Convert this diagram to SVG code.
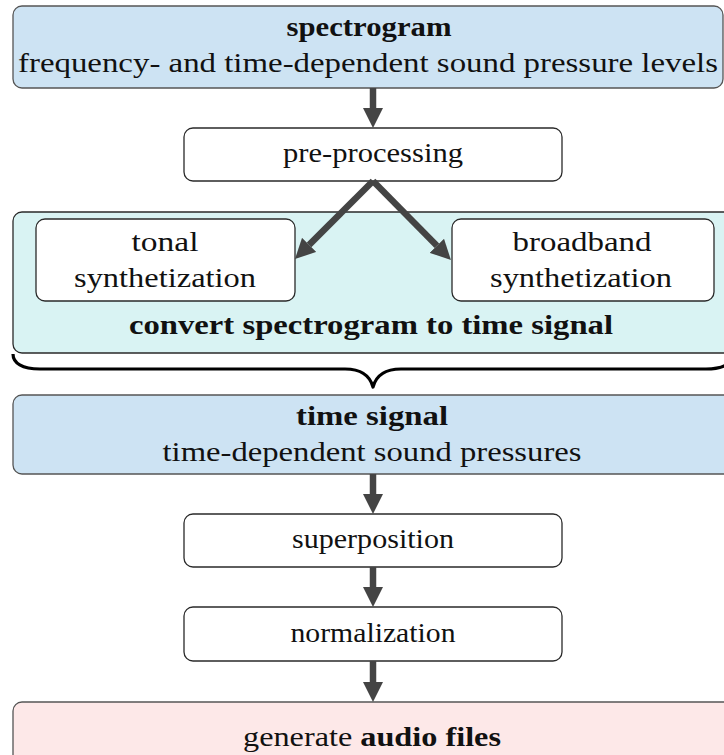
<svg xmlns="http://www.w3.org/2000/svg" width="724" height="755" viewBox="0 0 724 755">
  <style>
    .txt { font-family: "Liberation Serif", "DejaVu Serif", "Noto Serif", "Times New Roman", serif; font-size: 27px; fill: #111; text-anchor: middle; }
    .b { font-weight: bold; }
    .box { stroke: #2a2a2a; stroke-width: 1.3; }
    .blue { fill: #cde3f3; stroke: #555; }
    .teal { fill: #d9f3f3; }
    .white { fill: #ffffff; }
    .pink { fill: #fde8e8; stroke: #555; }
    .arrow { stroke: #444; stroke-width: 6.5; fill: none; }
    .brace { stroke: #000; stroke-width: 3.2; fill: none; stroke-linejoin: round; }
  </style>
  <defs>
    <marker id="head" viewBox="0 0 20 20" refX="0" refY="10" markerWidth="20" markerHeight="20" markerUnits="userSpaceOnUse" orient="auto">
      <path d="M0,0 L20,10 L0,20 Z" fill="#444"/>
    </marker>
  </defs>

  <g id="spectrogram">
    <rect class="box blue" x="13" y="6" width="710" height="82" rx="9"/>
    <text class="txt b" x="369" y="36" textLength="165" lengthAdjust="spacingAndGlyphs">spectrogram</text>
    <text class="txt" x="368" y="72" textLength="700" lengthAdjust="spacingAndGlyphs">frequency- and time-dependent sound pressure levels</text>
  </g>

  <g id="preprocessing">
    <rect class="box white" x="184" y="128" width="378" height="53" rx="9"/>
    <text class="txt" x="373" y="162" textLength="180" lengthAdjust="spacingAndGlyphs">pre-processing</text>
  </g>

  <g id="convert">
    <rect class="box teal" x="13" y="212" width="720" height="141" rx="9"/>
    <text class="txt b" x="371" y="334" textLength="484" lengthAdjust="spacingAndGlyphs">convert spectrogram to time signal</text>
  </g>

  <g id="tonal">
    <rect class="box white" x="36" y="219" width="259" height="82" rx="9"/>
    <text class="txt" x="165" y="251" textLength="67" lengthAdjust="spacingAndGlyphs">tonal</text>
    <text class="txt" x="165" y="287" textLength="182" lengthAdjust="spacingAndGlyphs">synthetization</text>
  </g>

  <g id="broadband">
    <rect class="box white" x="452" y="219" width="262" height="82" rx="9"/>
    <text class="txt" x="582" y="251" textLength="139" lengthAdjust="spacingAndGlyphs">broadband</text>
    <text class="txt" x="581" y="287" textLength="182" lengthAdjust="spacingAndGlyphs">synthetization</text>
  </g>

  <g id="timesignal">
    <rect class="box blue" x="13" y="395" width="720" height="79" rx="9"/>
    <text class="txt b" x="372" y="425" textLength="152" lengthAdjust="spacingAndGlyphs">time signal</text>
    <text class="txt" x="372" y="461" textLength="419" lengthAdjust="spacingAndGlyphs">time-dependent sound pressures</text>
  </g>

  <g id="superposition">
    <rect class="box white" x="184" y="514" width="378" height="53" rx="9"/>
    <text class="txt" x="373" y="548" textLength="162" lengthAdjust="spacingAndGlyphs">superposition</text>
  </g>

  <g id="normalization">
    <rect class="box white" x="184" y="607" width="378" height="54" rx="9"/>
    <text class="txt" x="373" y="642" textLength="165" lengthAdjust="spacingAndGlyphs">normalization</text>
  </g>

  <g id="audiofiles">
    <rect class="box pink" x="13" y="702" width="720" height="80" rx="9"/>
    <text class="txt" x="372" y="746" textLength="258" lengthAdjust="spacingAndGlyphs">generate <tspan class="b">audio files</tspan></text>
  </g>

  <g id="connectors">
    <line class="arrow" x1="373" y1="88" x2="373" y2="108" marker-end="url(#head)"/>
    <line class="arrow" x1="373" y1="181" x2="309.1" y2="244.9" marker-end="url(#head)"/>
    <line class="arrow" x1="373" y1="181" x2="436.9" y2="245.8" marker-end="url(#head)"/>
    <path class="brace" d="M13,354 C13,363 22,369 40,369 L345,369 C362,369 370,376 373,387 C376,376 384,369 401,369 L706,369 C724,369 733,363 733,354"/>
    <line class="arrow" x1="373" y1="474" x2="373" y2="494" marker-end="url(#head)"/>
    <line class="arrow" x1="373" y1="567" x2="373" y2="587" marker-end="url(#head)"/>
    <line class="arrow" x1="373" y1="661" x2="373" y2="682" marker-end="url(#head)"/>
  </g>
</svg>
